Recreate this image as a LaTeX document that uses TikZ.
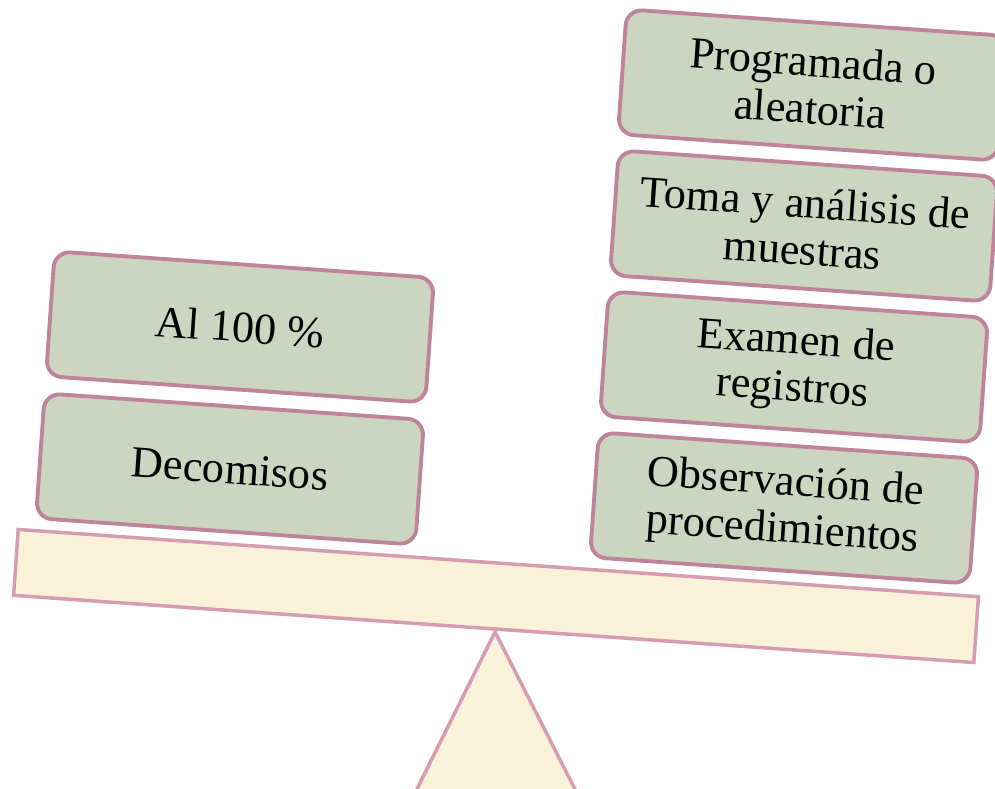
\documentclass[tikz,border=0pt]{standalone}
\usepackage{fontspec}
\setmainfont{Liberation Serif}
\usepackage{tikz}
\usetikzlibrary{positioning, calc}
\definecolor{sagefill}{HTML}{CBD5C0}
\definecolor{mauveline}{HTML}{BE8499}
\definecolor{creamfill}{HTML}{FAF2D8}
\definecolor{pinkline}{HTML}{D69CB0}

\tikzset{
  weightbox/.style={draw=mauveline, line width=1.1pt, fill=sagefill, rounded corners=4.5pt,
    minimum width=3.8cm, minimum height=1.25cm, align=center, rotate=-4,
    font=\fontsize{12.6}{13.4}\selectfont},
  beambar/.style={draw=pinkline, line width=1pt, fill=creamfill,
    minimum width=9.62cm, minimum height=0.66cm, rotate=-4}
}

\begin{document}
\begin{tikzpicture}[x=0.01cm, y=-0.01cm]

\clip (0,0) rectangle (995,789);

% Fulcrum
\coordinate (apex) at (495,632);
\coordinate (baseL) at (413,797);
\coordinate (baseR) at (579,797);
\draw[draw=pinkline, line width=1pt, fill=creamfill] (apex) -- (baseL) -- (baseR) -- cycle;

% Beam
\node[beambar] (beam) at (496,596) {};

% Left side
\node[weightbox] (al) at (240,327) {Al 100 \%};
\node[weightbox] (decom) at (230,469) {Decomisos};

% Right side
\node[weightbox] (prog) at (812,85) {Programada o\\aleatoria};
\node[weightbox] (toma) at (804,226) {Toma y análisis de\\muestras};
\node[weightbox] (exam) at (794,367) {Examen de\\registros};
\node[weightbox] (obs) at (784,508) {Observación de\\procedimientos};

\end{tikzpicture}
\end{document}
